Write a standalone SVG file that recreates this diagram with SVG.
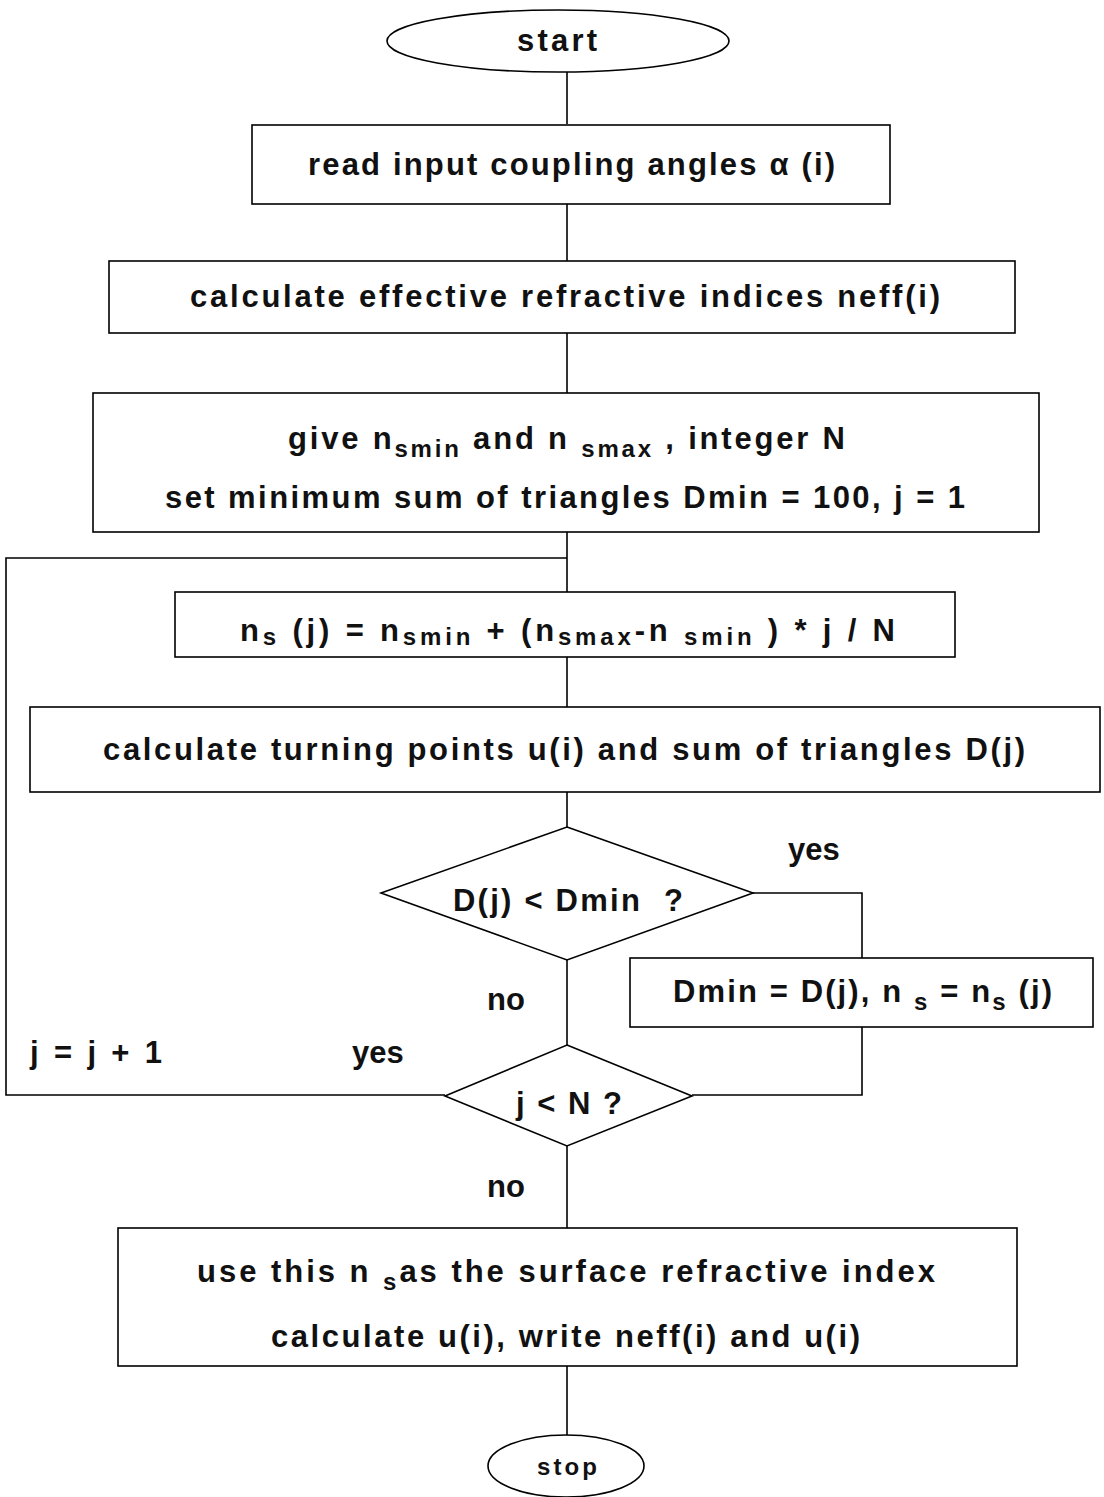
<svg xmlns="http://www.w3.org/2000/svg" width="1104" height="1497" viewBox="0 0 1104 1497">
  <style>
    .shape { fill: #fff; stroke: #000; stroke-width: 1.6; }
    .wire { fill: none; stroke: #000; stroke-width: 1.6; }
    text { font-family: "Liberation Sans", Arial, sans-serif; font-size: 31px; font-weight: bold; fill: #111; }
    .sub { font-size: 24px; }
    .small { font-size: 24px; }
  </style>
  <rect width="1104" height="1497" fill="#fff"/>

  <!-- connectors -->
  <g id="connectors">
    <line class="wire" x1="567" y1="72" x2="567" y2="124"/>
    <line class="wire" x1="567" y1="204" x2="567" y2="261"/>
    <line class="wire" x1="567" y1="333" x2="567" y2="393"/>
    <line class="wire" x1="567" y1="532" x2="567" y2="592"/>
    <line class="wire" x1="567" y1="657" x2="567" y2="707"/>
    <line class="wire" x1="567" y1="792" x2="567" y2="827"/>
    <line class="wire" x1="567" y1="960" x2="567" y2="1045"/>
    <line class="wire" x1="567" y1="1146" x2="567" y2="1228"/>
    <line class="wire" x1="567" y1="1366" x2="567" y2="1436"/>
    <!-- yes branch of D(j) < Dmin -->
    <polyline class="wire" points="753,893 862,893 862,958"/>
    <polyline class="wire" points="862,1027 862,1095 692,1095"/>
    <!-- loop back: j = j + 1 -->
    <polyline class="wire" points="445,1095 6,1095 6,558 567,558"/>
  </g>

  <g id="start">
    <ellipse class="shape" cx="558" cy="41" rx="171" ry="31"/>
    <text x="517" y="51" textLength="80" lengthAdjust="spacing">start</text>
  </g>

  <g id="read-angles">
    <rect class="shape" x="252" y="125" width="638" height="79"/>
    <text x="308" y="175" textLength="527" lengthAdjust="spacing">read input coupling angles α (i)</text>
  </g>

  <g id="calc-neff">
    <rect class="shape" x="109" y="261" width="906" height="72"/>
    <text x="190" y="307" textLength="750" lengthAdjust="spacing">calculate effective refractive indices neff(i)</text>
  </g>

  <g id="init">
    <rect class="shape" x="93" y="393" width="946" height="139"/>
    <text x="288" y="449" textLength="557" lengthAdjust="spacing">give n<tspan class="sub" dy="8">smin</tspan><tspan dy="-8"> and n </tspan><tspan class="sub" dy="8">smax</tspan><tspan dy="-8"> , integer N</tspan></text>
    <text x="165" y="508" textLength="800" lengthAdjust="spacing">set minimum sum of triangles Dmin = 100, j = 1</text>
  </g>

  <g id="ns-step">
    <rect class="shape" x="175" y="592" width="780" height="65"/>
    <text x="240" y="641" textLength="655" lengthAdjust="spacing">n<tspan class="sub" dy="4">s</tspan><tspan dy="-4"> (j) = n</tspan><tspan class="sub" dy="4">smin</tspan><tspan dy="-4"> + (n</tspan><tspan class="sub" dy="4">smax</tspan><tspan dy="-4">-n </tspan><tspan class="sub" dy="4">smin</tspan><tspan dy="-4"> ) * j / N</tspan></text>
  </g>

  <g id="turning-points">
    <rect class="shape" x="30" y="707" width="1070" height="85"/>
    <text x="103" y="760" textLength="922" lengthAdjust="spacing">calculate turning points u(i) and sum of triangles D(j)</text>
  </g>

  <g id="test-dmin">
    <polygon class="shape" points="567,827 753,893 567,960 381,893"/>
    <text x="453" y="911" textLength="230" lengthAdjust="spacing">D(j) &lt; Dmin<tspan dx="22">?</tspan></text>
  </g>
  <text x="788" y="860">yes</text>
  <text x="487" y="1010">no</text>

  <g id="update-dmin">
    <rect class="shape" x="630" y="958" width="463" height="69"/>
    <text x="673" y="1002" textLength="379" lengthAdjust="spacing">Dmin = D(j), n <tspan class="sub" dy="8">s</tspan><tspan dy="-8">  = n</tspan><tspan class="sub" dy="8">s</tspan><tspan dy="-8"> (j)</tspan></text>
  </g>

  <g id="test-j">
    <polygon class="shape" points="567,1045 692,1096 567,1146 445,1096"/>
    <text x="516" y="1114" textLength="106" lengthAdjust="spacing">j &lt; N ?</text>
  </g>
  <text x="30" y="1063" textLength="132" lengthAdjust="spacing">j = j + 1</text>
  <text x="352" y="1063">yes</text>
  <text x="487" y="1197">no</text>

  <g id="result">
    <rect class="shape" x="118" y="1228" width="899" height="138"/>
    <text x="197" y="1282" textLength="738" lengthAdjust="spacing">use this n <tspan class="sub" dy="8">s</tspan><tspan dy="-8">as the surface refractive index</tspan></text>
    <text x="271" y="1347" textLength="589" lengthAdjust="spacing">calculate u(i), write neff(i) and u(i)</text>
  </g>

  <g id="stop">
    <ellipse class="shape" cx="566" cy="1466" rx="78" ry="31"/>
    <text class="small" x="537" y="1475" textLength="60" lengthAdjust="spacing">stop</text>
  </g>
</svg>
